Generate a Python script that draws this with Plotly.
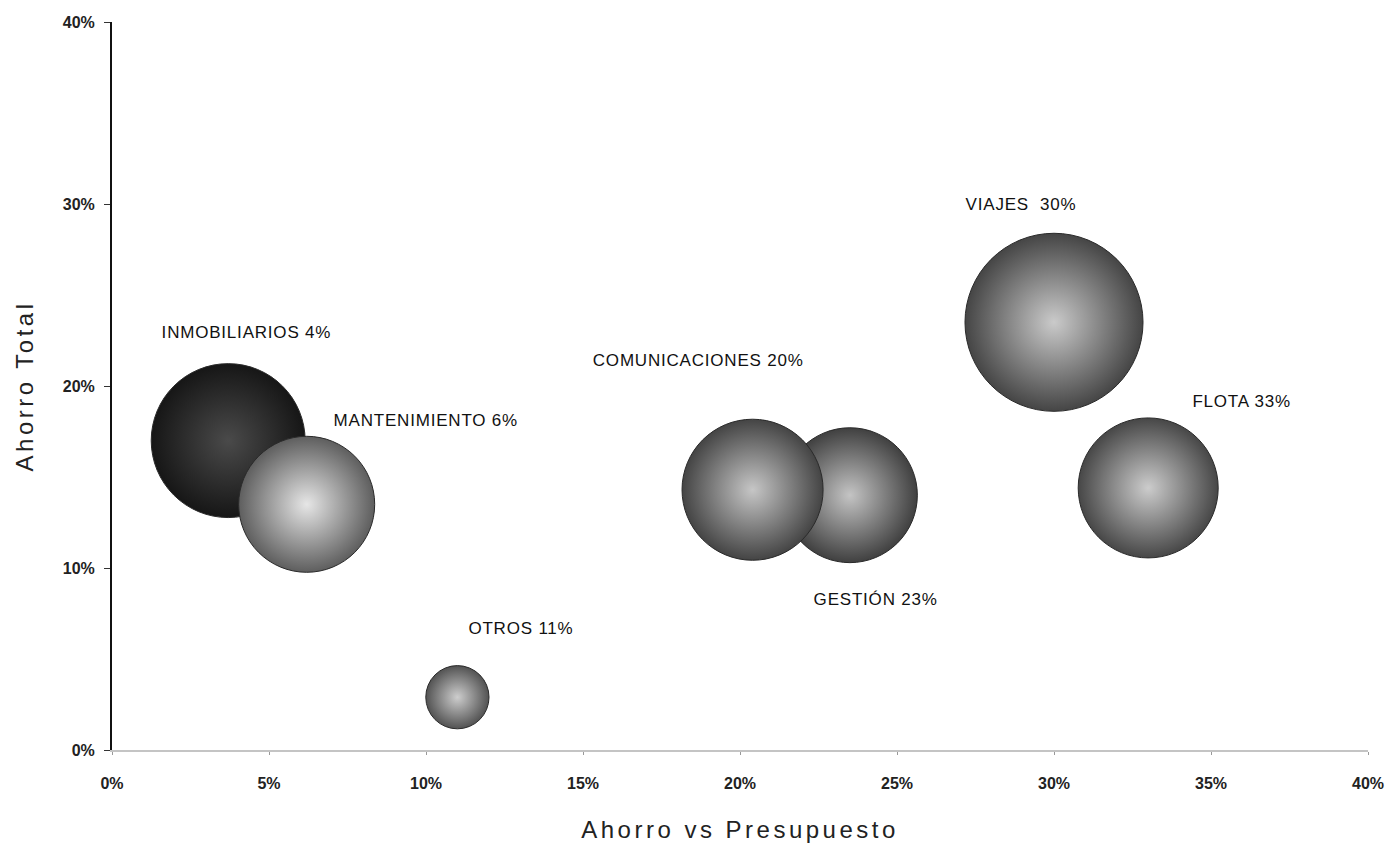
import plotly.graph_objects as go

# ---- data ----
categorias = ["INMOBILIARIOS", "MANTENIMIENTO", "OTROS", "GESTIÓN",
              "COMUNICACIONES", "VIAJES", "FLOTA"]
etiquetas = ["INMOBILIARIOS 4%", "MANTENIMIENTO 6%", "OTROS 11%", "GESTIÓN 23%",
             "COMUNICACIONES 20%", "VIAJES  30%", "FLOTA 33%"]
ahorro_vs_presupuesto = [3.7, 6.2, 11.0, 23.5, 20.4, 30.0, 33.0]   # %
ahorro_total = [17.0, 13.5, 2.9, 14.0, 14.3, 23.5, 14.4]            # %
volumen = [23.7, 18.5, 4.0, 18.2, 19.9, 31.7, 19.6]                 # bubble size
x_ticks = [0, 5, 10, 15, 20, 25, 30, 35, 40]
y_ticks = [0, 10, 20, 30, 40]

# ---- styling ----
centro = ["#4a4a4a", "#e6e6e6", "#cdcdcd", "#c4c4c4", "#c6c6c6", "#cacaca", "#cccccc"]
borde = ["#161616", "#5e5e5e", "#525252", "#404040", "#444444", "#454545", "#474747"]
label_offsets = [(18, 108), (119, 84), (64, 69), (26, -104),
                 (-55, 129), (-33, 118), (93, 86)]

FONT = "Liberation Sans, Arial, sans-serif"

fig = go.Figure()
fig.add_trace(go.Scatter(
    x=ahorro_vs_presupuesto, y=ahorro_total, mode="markers",
    text=categorias, hoverinfo="text",
    marker=dict(size=volumen, sizemode="area", sizeref=0.002,
                color=borde, opacity=1,
                gradient=dict(type="radial", color=centro),
                line=dict(width=1, color="#2a2a2a")),
    showlegend=False,
))

annotations = []
for xv, yv, lab, (dx, dy) in zip(ahorro_vs_presupuesto, ahorro_total, etiquetas, label_offsets):
    annotations.append(dict(x=xv, y=yv, xref="x", yref="y", text=lab,
                            showarrow=False, xshift=dx, yshift=dy,
                            font=dict(family=FONT, size=17, color="#111111")))

fig.update_layout(
    width=1394, height=848,
    margin=dict(l=112, r=26, t=22, b=98),
    paper_bgcolor="white", plot_bgcolor="white",
    annotations=annotations,
    xaxis=dict(range=[0, 40], tickmode="array", tickvals=x_ticks,
               ticktext=[f"{v}%" for v in x_ticks],
               showgrid=False, zeroline=False, automargin=False,
               showline=True, linecolor="#c4c4c4", linewidth=2,
               ticks="outside", ticklen=3, tickcolor="#999999",
               ticklabelstandoff=15,
               tickfont=dict(family=FONT, size=16, color="#222222", weight="bold"),
               title=dict(text="Ahorro vs Presupuesto", standoff=30,
                          font=dict(family=FONT, size=24, color="#222222"))),
    yaxis=dict(range=[0, 40], tickmode="array", tickvals=y_ticks,
               ticktext=[f"{v}%" for v in y_ticks],
               showgrid=False, zeroline=False, automargin=False,
               showline=True, linecolor="#111111", linewidth=2,
               ticks="outside", ticklen=6, tickcolor="#333333",
               ticklabelstandoff=6,
               tickfont=dict(family=FONT, size=16, color="#222222", weight="bold"),
               title=dict(text="Ahorro Total", standoff=22,
                          font=dict(family=FONT, size=24, color="#222222"))),
)

post = """
var gd = document.getElementById('{plot_id}');
function spacing(){
  gd.querySelectorAll('.xtitle, .ytitle').forEach(function(t){t.style.letterSpacing='3.5px';});
  gd.querySelectorAll('.annotation-text').forEach(function(t){t.style.letterSpacing='0.8px';});
}
spacing();
"""
fig.write_html("out.html", post_script=post)
